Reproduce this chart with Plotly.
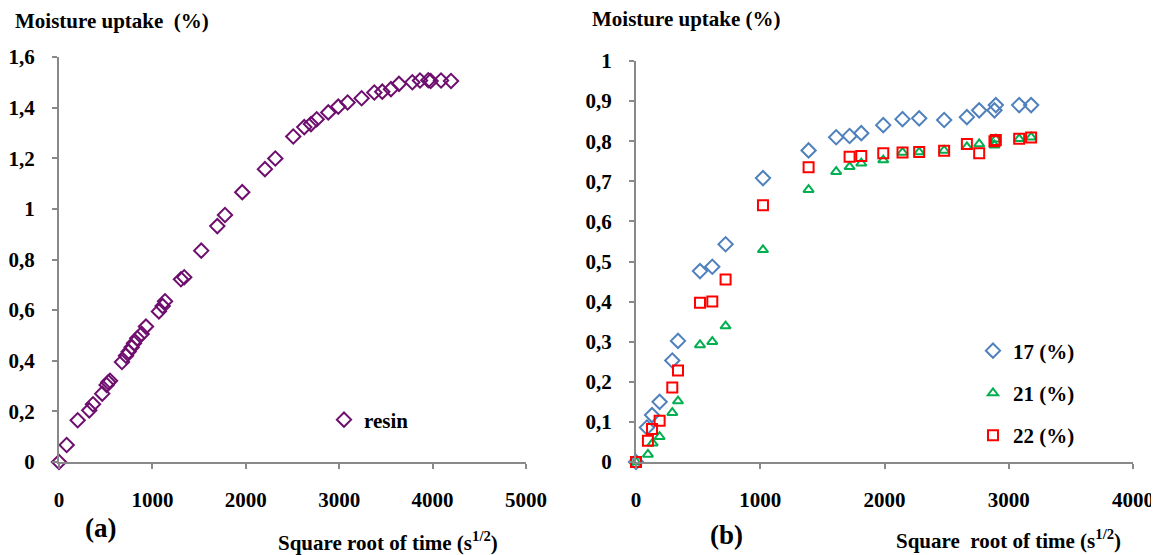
import plotly.graph_objects as go

# ---------------- data ----------------
resin_x = [0, 82, 200, 324, 364, 463, 510, 528, 546, 674, 717, 746, 778, 803, 838, 885, 931,
           1070, 1110, 1135, 1306, 1341, 1523, 1695, 1777, 1962, 2205, 2316, 2508, 2626, 2698,
           2759, 2883, 2990, 3090, 3240, 3376, 3461, 3554, 3640, 3783, 3865, 3954, 3979, 4090, 4197]
resin_y = [0, 0.067, 0.165, 0.204, 0.228, 0.27, 0.304, 0.315, 0.321, 0.395, 0.42, 0.436, 0.453,
           0.469, 0.489, 0.506, 0.535, 0.595, 0.616, 0.635, 0.722, 0.73, 0.835, 0.932, 0.976,
           1.066, 1.157, 1.199, 1.286, 1.323, 1.335, 1.354, 1.381, 1.404, 1.42, 1.437, 1.46,
           1.463, 1.473, 1.494, 1.50, 1.507, 1.508, 1.505, 1.507, 1.505]

s17_x = [0, 88, 129, 190, 292, 338, 515, 614, 721, 1022, 1389, 1611, 1719, 1813, 1990, 2145,
         2279, 2480, 2663, 2762, 2885, 2896, 3084, 3180]
s17_y = [0, 0.086, 0.117, 0.150, 0.253, 0.302, 0.476, 0.487, 0.543, 0.708, 0.777, 0.810, 0.813,
         0.820, 0.840, 0.855, 0.857, 0.853, 0.860, 0.877, 0.877, 0.890, 0.890, 0.890]

s21_x = [0, 96, 134, 190, 292, 338, 515, 614, 721, 1022, 1389, 1611, 1719, 1813, 1990, 2145,
         2279, 2480, 2663, 2762, 2885, 2896, 3084, 3180]
s21_y = [0, 0.019, 0.047, 0.063, 0.123, 0.152, 0.292, 0.300, 0.339, 0.529, 0.679, 0.724, 0.736,
         0.745, 0.753, 0.772, 0.773, 0.777, 0.786, 0.793, 0.790, 0.805, 0.806, 0.810]

s22_x = [0, 96, 129, 190, 292, 338, 515, 614, 721, 1022, 1389, 1719, 1813, 1990, 2145,
         2279, 2480, 2663, 2762, 2885, 2896, 3084, 3180]
s22_y = [0, 0.053, 0.082, 0.103, 0.186, 0.228, 0.397, 0.400, 0.455, 0.640, 0.735, 0.761, 0.763,
         0.770, 0.772, 0.773, 0.776, 0.793, 0.770, 0.800, 0.803, 0.806, 0.809]

left_yticks = [0, 0.2, 0.4, 0.6, 0.8, 1.0, 1.2, 1.4, 1.6]
left_yticktext = ["0", "0,2", "0,4", "0,6", "0,8", "1", "1,2", "1,4", "1,6"]
left_xticks = [0, 1000, 2000, 3000, 4000, 5000]
right_yticks = [0, 0.1, 0.2, 0.3, 0.4, 0.5, 0.6, 0.7, 0.8, 0.9, 1.0]
right_yticktext = ["0", "0,1", "0,2", "0,3", "0,4", "0,5", "0,6", "0,7", "0,8", "0,9", "1"]
right_xticks = [0, 1000, 2000, 3000, 4000]

# ---------------- figure ----------------
# the page body has an 8px margin, so the figure is 8px smaller and all
# window-pixel positions are converted to paper fractions with that offset
OFF = 8
W, H = 1159 - OFF, 555 - OFF
FONT = "Liberation Serif, Times New Roman, serif"
AX = "#898989"


def px(x):
    return (x - OFF) / W


def py(y):
    return (H - (y - OFF)) / H


fig = go.Figure()

fig.add_trace(go.Scatter(x=resin_x, y=resin_y, mode="markers", name="resin",
                         xaxis="x", yaxis="y", cliponaxis=False, legend="legend",
                         marker=dict(symbol="diamond-open", size=11, color="#6E0E6E",
                                     line=dict(width=2, color="#6E0E6E"))))

fig.add_trace(go.Scatter(x=s17_x, y=s17_y, mode="markers", name="17 (%)",
                         xaxis="x2", yaxis="y2", cliponaxis=False, legend="legend2",
                         legendgroup="a",
                         marker=dict(symbol="diamond-open", size=11, color="#4F81BD",
                                     line=dict(width=2, color="#4F81BD"))))
fig.add_trace(go.Scatter(x=s21_x, y=s21_y, mode="markers", name="21 (%)",
                         xaxis="x2", yaxis="y2", cliponaxis=False, legend="legend2",
                         legendgroup="b",
                         marker=dict(symbol="triangle-up-open", size=9, color="#00B050",
                                     line=dict(width=2, color="#00B050"))))
fig.add_trace(go.Scatter(x=s22_x, y=s22_y, mode="markers", name="22 (%)",
                         xaxis="x2", yaxis="y2", cliponaxis=False, legend="legend2",
                         legendgroup="c",
                         marker=dict(symbol="square-open", size=10, color="#FF0000",
                                     line=dict(width=2, color="#FF0000"))))

tickfont = dict(family=FONT, size=21, color="black", weight="bold")


def xaxis(dom, rng, ticks):
    return dict(domain=dom, range=rng, tickvals=ticks, showgrid=False, zeroline=False,
                showline=True, linecolor=AX, linewidth=2, ticks="outside", ticklen=5,
                tickcolor=AX, tickwidth=1.5, tickfont=tickfont, ticklabelstandoff=13,
                automargin=False, fixedrange=True)


def yaxis(dom, rng, ticks, text, anchor):
    return dict(domain=dom, range=rng, tickvals=ticks, ticktext=text, showgrid=False,
                zeroline=False, showline=True, linecolor=AX, linewidth=2, ticks="outside",
                ticklen=5, tickcolor=AX, tickwidth=1.5, tickfont=tickfont,
                ticklabelstandoff=13, anchor=anchor, automargin=False, fixedrange=True)


fig.update_layout(
    width=W, height=H, margin=dict(l=0, r=0, t=0, b=0, autoexpand=False),
    paper_bgcolor="white", plot_bgcolor="white",
    xaxis=xaxis([px(59), px(526)], [0, 5000], left_xticks) | dict(anchor="y"),
    yaxis=yaxis([py(462), py(57)], [0, 1.6], left_yticks, left_yticktext, "x"),
    xaxis2=xaxis([px(636), px(1133)], [0, 4000], right_xticks) | dict(anchor="y2"),
    yaxis2=yaxis([py(462), py(61)], [0, 1.0], right_yticks, right_yticktext, "x2"),
    legend=dict(x=px(324), y=py(420), xanchor="left", yanchor="middle",
                bgcolor="rgba(0,0,0,0)", itemwidth=30,
                font=dict(family=FONT, size=21, color="black", weight="bold")),
    legend2=dict(x=px(973), y=py(393), xanchor="left", yanchor="middle",
                 bgcolor="rgba(0,0,0,0)", itemwidth=30, tracegroupgap=12,
                 font=dict(family=FONT, size=21, color="black", weight="bold")),
    showlegend=True,
)

title_font = dict(family=FONT, size=21, color="black", weight="bold")
ann = [
    dict(text="Moisture uptake  (%)", x=px(13), y=py(21), xanchor="left", yanchor="middle",
         font=title_font),
    dict(text="Moisture uptake (%)", x=px(590), y=py(19), xanchor="left", yanchor="middle",
         font=title_font),
    dict(text="Square root of time (s<sup>1/2</sup>)", x=px(388), y=py(541),
         xanchor="center", yanchor="middle", font=title_font),
    dict(text="Square  root of time (s<sup>1/2</sup>)", x=px(1008), y=py(539),
         xanchor="center", yanchor="middle", font=title_font),
    dict(text="(a)", x=px(100), y=py(528), xanchor="center", yanchor="middle",
         font=dict(family=FONT, size=27, color="black", weight="bold")),
    dict(text="(b)", x=px(726), y=py(535), xanchor="center", yanchor="middle",
         font=dict(family=FONT, size=27, color="black", weight="bold")),
]
for a in ann:
    a.update(xref="paper", yref="paper", showarrow=False)
fig.update_layout(annotations=ann)

fig.write_html("out.html")
